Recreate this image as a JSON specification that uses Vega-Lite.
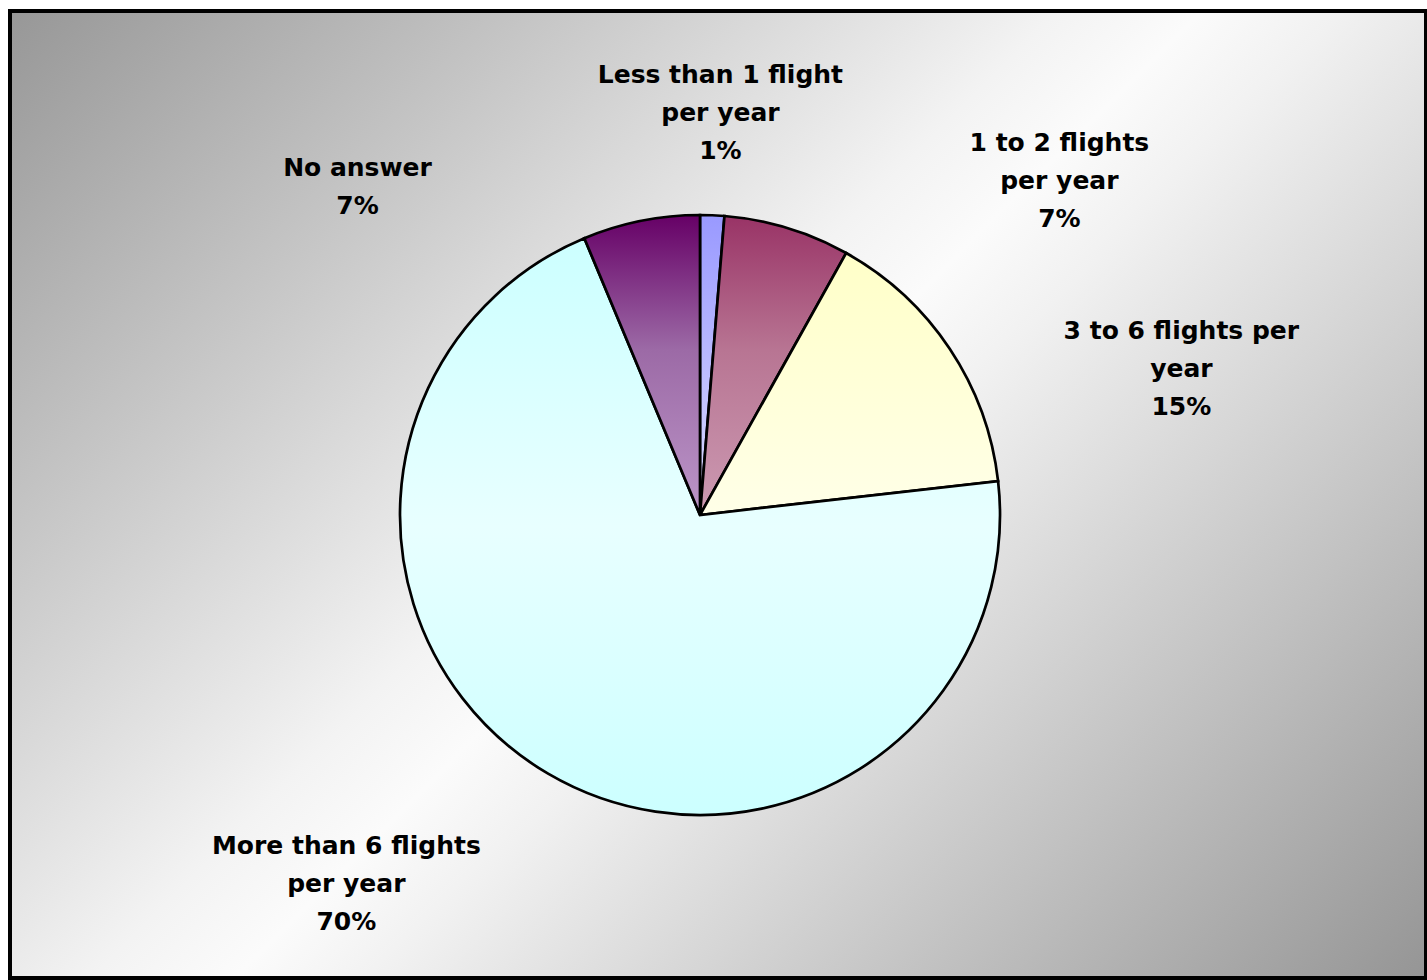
{
  "$schema": "https://vega.github.io/schema/vega-lite/v6.json",
  "width": 1416,
  "height": 967,
  "autosize": {"type": "none"},
  "padding": {"left": 10, "top": 11, "right": 1, "bottom": 2},
  "background": "#ffffff",
  "view": {
    "fill": {"gradient": "linear", "x1": -0.074, "y1": 0.108, "x2": 1.074, "y2": 0.892,
      "stops": [{"offset": 0, "color": "#979797"}, {"offset": 0.44, "color": "#f3f3f3"}, {"offset": 0.5, "color": "#fbfbfb"}, {"offset": 0.56, "color": "#f1f1f1"}, {"offset": 1, "color": "#959595"}]},
    "stroke": "#000000",
    "strokeWidth": 4
  },
  "data": {
    "values": [
      {"category": "Less than 1 flight per year", "ord": 1, "value": 1.3, "label": "Less than 1 flight\nper year\n1%"},
      {"category": "1 to 2 flights per year", "ord": 2, "value": 6.8, "label": "1 to 2 flights\nper year\n7%"},
      {"category": "3 to 6 flights per year", "ord": 3, "value": 15.1, "label": "3 to 6 flights per\nyear\n15%"},
      {"category": "More than 6 flights per year", "ord": 4, "value": 70.5, "label": "More than 6 flights\nper year\n70%"},
      {"category": "No answer", "ord": 5, "value": 6.3, "label": "No answer\n7%"}
    ]
  },
  "encoding": {
    "theta": {"field": "value", "type": "quantitative", "stack": true},
    "order": {"field": "ord", "type": "quantitative"}
  },
  "layer": [
    {
      "mark": {"type": "arc", "radius": 300, "x": {"expr": "width/2 - 18"}, "y": {"expr": "height/2 + 20.5"}, "stroke": "#000000", "strokeWidth": 2.7,
        "fill": {"gradient": "linear", "x1": 0, "y1": 0, "x2": 0, "y2": 1, "stops": [{"offset": 0, "color": "#9999ff"}, {"offset": 1, "color": "#dcdcff"}]}},
      "encoding": {"opacity": {"condition": {"test": "datum.ord === 1", "value": 1}, "value": 0}}
    },
    {
      "mark": {"type": "arc", "radius": 300, "x": {"expr": "width/2 - 18"}, "y": {"expr": "height/2 + 20.5"}, "stroke": "#000000", "strokeWidth": 2.7,
        "fill": {"gradient": "linear", "x1": 0, "y1": 0, "x2": 0, "y2": 1, "stops": [{"offset": 0, "color": "#993366"}, {"offset": 0.45, "color": "#b87593"}, {"offset": 1, "color": "#cc9ab2"}]}},
      "encoding": {"opacity": {"condition": {"test": "datum.ord === 2", "value": 1}, "value": 0}}
    },
    {
      "mark": {"type": "arc", "radius": 300, "x": {"expr": "width/2 - 18"}, "y": {"expr": "height/2 + 20.5"}, "stroke": "#000000", "strokeWidth": 2.7,
        "fill": {"gradient": "linear", "x1": 0, "y1": 0, "x2": 0, "y2": 1, "stops": [{"offset": 0, "color": "#ffffc8"}, {"offset": 1, "color": "#ffffe8"}]}},
      "encoding": {"opacity": {"condition": {"test": "datum.ord === 3", "value": 1}, "value": 0}}
    },
    {
      "mark": {"type": "arc", "radius": 300, "x": {"expr": "width/2 - 18"}, "y": {"expr": "height/2 + 20.5"}, "stroke": "#000000", "strokeWidth": 2.7,
        "fill": {"gradient": "linear", "x1": 0, "y1": 0, "x2": 0, "y2": 1, "stops": [{"offset": 0, "color": "#ccffff"}, {"offset": 0.5, "color": "#e8ffff"}, {"offset": 1, "color": "#ccffff"}]}},
      "encoding": {"opacity": {"condition": {"test": "datum.ord === 4", "value": 1}, "value": 0}}
    },
    {
      "mark": {"type": "arc", "radius": 300, "x": {"expr": "width/2 - 18"}, "y": {"expr": "height/2 + 20.5"}, "stroke": "#000000", "strokeWidth": 2.7,
        "fill": {"gradient": "linear", "x1": 0, "y1": 0, "x2": 0, "y2": 1, "stops": [{"offset": 0, "color": "#660066"}, {"offset": 0.45, "color": "#9c6aa6"}, {"offset": 1, "color": "#bc96c8"}]}},
      "encoding": {"opacity": {"condition": {"test": "datum.ord === 5", "value": 1}, "value": 0}}
    },
    {
      "mark": {"type": "text", "x": {"expr": "width/2 - 18"}, "y": {"expr": "height/2 + 20.5"}, "radius": 402, "dx": 4, "dy": -38,
        "font": "DejaVu Sans", "fontWeight": "bold", "fontSize": 25, "lineHeight": 38, "lineBreak": "\n", "align": "center", "baseline": "middle", "color": "#000000"},
      "encoding": {"text": {"condition": {"test": "datum.ord === 1", "field": "label"}, "value": ""}}
    },
    {
      "mark": {"type": "text", "x": {"expr": "width/2 - 18"}, "y": {"expr": "height/2 + 20.5"}, "radius": 424, "dx": 236, "dy": 34,
        "font": "DejaVu Sans", "fontWeight": "bold", "fontSize": 25, "lineHeight": 38, "lineBreak": "\n", "align": "center", "baseline": "middle", "color": "#000000"},
      "encoding": {"text": {"condition": {"test": "datum.ord === 2", "field": "label"}, "value": ""}}
    },
    {
      "mark": {"type": "text", "x": {"expr": "width/2 - 18"}, "y": {"expr": "height/2 + 20.5"}, "radius": 481, "dx": 81, "dy": 83,
        "font": "DejaVu Sans", "fontWeight": "bold", "fontSize": 25, "lineHeight": 38, "lineBreak": "\n", "align": "center", "baseline": "middle", "color": "#000000"},
      "encoding": {"text": {"condition": {"test": "datum.ord === 3", "field": "label"}, "value": ""}}
    },
    {
      "mark": {"type": "text", "x": {"expr": "width/2 - 18"}, "y": {"expr": "height/2 + 20.5"}, "radius": 497, "dx": -102, "dy": -98,
        "font": "DejaVu Sans", "fontWeight": "bold", "fontSize": 25, "lineHeight": 38, "lineBreak": "\n", "align": "center", "baseline": "middle", "color": "#000000"},
      "encoding": {"text": {"condition": {"test": "datum.ord === 4", "field": "label"}, "value": ""}}
    },
    {
      "mark": {"type": "text", "x": {"expr": "width/2 - 18"}, "y": {"expr": "height/2 + 20.5"}, "radius": 389, "dx": -266, "dy": 34,
        "font": "DejaVu Sans", "fontWeight": "bold", "fontSize": 25, "lineHeight": 38, "lineBreak": "\n", "align": "center", "baseline": "middle", "color": "#000000"},
      "encoding": {"text": {"condition": {"test": "datum.ord === 5", "field": "label"}, "value": ""}}
    }
  ]
}
